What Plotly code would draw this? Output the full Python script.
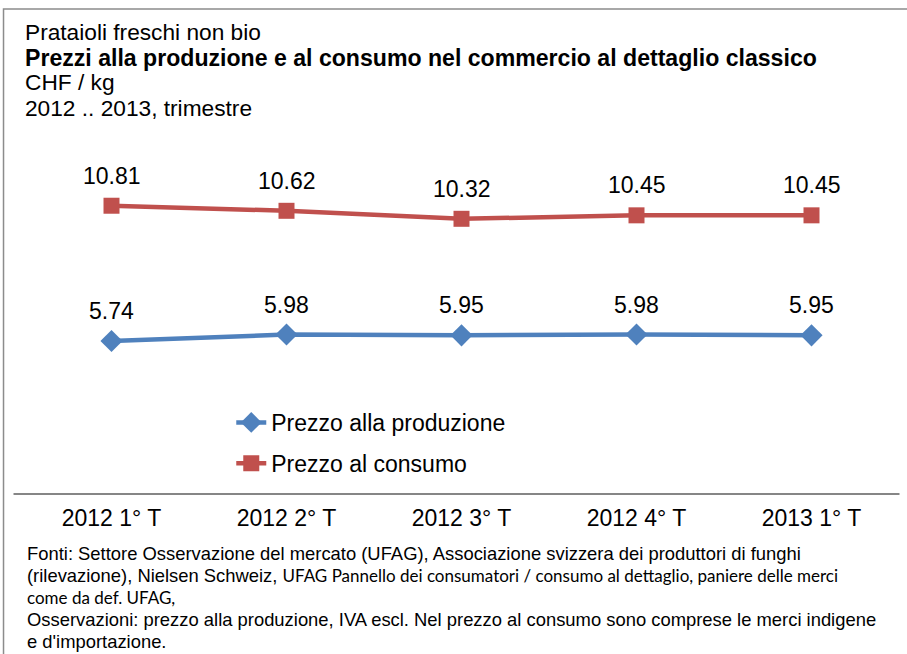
import plotly.graph_objects as go

# Data
quarters = ["2012 1° T", "2012 2° T", "2012 3° T", "2012 4° T", "2013 1° T"]
prezzo_produzione = [5.74, 5.98, 5.95, 5.98, 5.95]
prezzo_consumo = [10.81, 10.62, 10.32, 10.45, 10.45]

W, H = 907, 654
L, R, T, B = 23.5, 7.5, 174, 160
FONT = "Liberation Sans, Arial, sans-serif"
BLUE = "#4F81BD"
RED = "#C0504D"


def px(x):
    # pixel x -> paper x
    return (x - L) / (W - L - R)


def py(y):
    # pixel y -> paper y
    return (H - B - y) / (H - T - B)


fig = go.Figure()

fig.add_trace(go.Scatter(
    x=quarters, y=prezzo_produzione, name="Prezzo alla produzione",
    mode="lines+markers", legendgroup="a",
    line=dict(color=BLUE, width=4.5),
    marker=dict(symbol="diamond", size=17, color=BLUE),
))
fig.add_trace(go.Scatter(
    x=quarters, y=prezzo_consumo, name="Prezzo al consumo",
    mode="lines+markers", legendgroup="b",
    line=dict(color=RED, width=4.5),
    marker=dict(symbol="square", size=16, color=RED),
))

# data labels above the points
for series in (prezzo_produzione, prezzo_consumo):
    for q, v in zip(quarters, series):
        fig.add_annotation(x=q, y=v, text=f"{v:.2f}", showarrow=False,
                           yshift=30, font=dict(size=23, color="#000"))

header = [
    ("Prataioli freschi non bio", 31.5, 22.7),
    ("<b>Prezzi alla produzione e al consumo nel commercio al dettaglio classico</b>", 57.5, 23.1),
    ("CHF / kg", 82, 22.7),
    ("2012 .. 2013, trimestre", 108, 22.7),
]
for txt, yy, fs in header:
    fig.add_annotation(text=txt, xref="paper", yref="paper", x=px(22), y=py(yy),
                       xanchor="left", yanchor="middle", showarrow=False,
                       font=dict(size=fs, color="#000"))

calibri = '<span style="font-family:Lato, sans-serif;font-size:17px">'
notes = [
    "Fonti: Settore Osservazione del mercato (UFAG), Associazione svizzera dei produttori di funghi",
    "(rilevazione), Nielsen Schweiz, " + calibri + "UFAG Pannello dei consumatori / consumo al dettaglio, paniere delle merci</span>",
    calibri + "come da def. UFAG,</span>",
    "Osservazioni: prezzo alla produzione, IVA escl. Nel prezzo al consumo sono comprese le merci indigene",
    "e d'importazione.",
]
for i, txt in enumerate(notes):
    fig.add_annotation(text=txt, xref="paper", yref="paper", x=px(25), y=py(553 + 22 * i),
                       xanchor="left", yanchor="middle", align="left", showarrow=False,
                       font=dict(size=18.4, color="#000"))

# category axis line and outer frame
fig.add_shape(type="line", xref="paper", yref="paper",
              x0=px(13), x1=px(900), y0=py(494), y1=py(494),
              line=dict(color="#868686", width=2))
fig.add_shape(type="rect", xref="paper", yref="paper",
              x0=px(3), x1=px(912), y0=py(660), y1=py(9),
              line=dict(color="#8c8c8c", width=1.5))

fig.update_layout(
    width=W, height=H,
    margin=dict(l=L, r=R, t=T, b=B),
    paper_bgcolor="white", plot_bgcolor="white",
    font=dict(family=FONT, color="#000"),
    showlegend=True,
    legend=dict(x=px(231), y=py(401), xanchor="left", yanchor="top",
                font=dict(size=23), tracegroupgap=8, traceorder="grouped",
                bgcolor="rgba(0,0,0,0)"),
    xaxis=dict(type="category", range=[-0.5, 4.5], showgrid=False, zeroline=False,
               showline=False, ticks="", tickfont=dict(size=23), ticklabelstandoff=8),
    yaxis=dict(range=[0, 12], visible=False, showgrid=False, zeroline=False),
)

# drop the default page margin so the figure sits at the window's corner
fig.write_html("out.html", config={"displayModeBar": False},
               post_script="document.body.style.margin='0';")
